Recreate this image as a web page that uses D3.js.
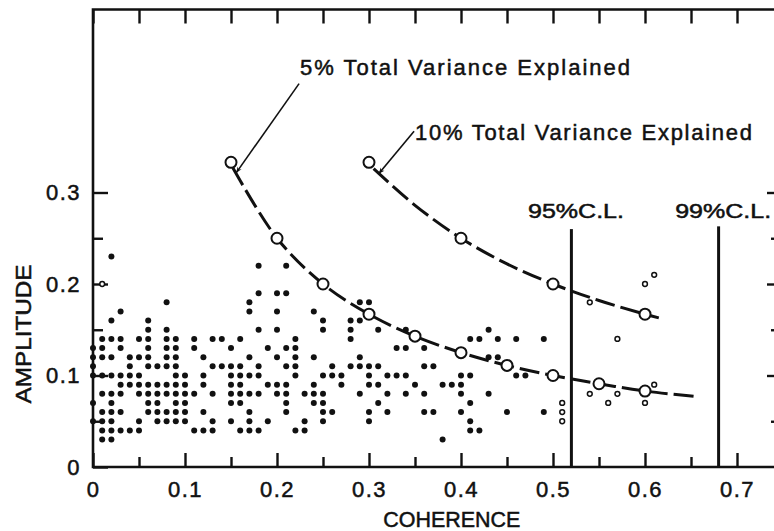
<!DOCTYPE html>
<html>
<head>
<meta charset="utf-8">
<script src="https://cdn.jsdelivr.net/npm/d3@7"></script>
<style>
  body { margin: 0; background: #fff; }
  svg { display: block; }
  text { font-family: "Liberation Sans", Arial, sans-serif; fill: #111; stroke: #111; stroke-width: 0.5px; }
</style>
</head>
<body>
<svg id="chart" width="774" height="531"></svg>
<script>
// ticks
const xMajor = [0, 0.1, 0.2, 0.3, 0.4, 0.5, 0.6, 0.7];
const xMajorLabels = ["0", "0.1", "0.2", "0.3", "0.4", "0.5", "0.6", "0.7"];
const xMinor = [0.05, 0.15, 0.25, 0.35, 0.45, 0.55, 0.65];
const yMajor = [0, 0.1, 0.2, 0.3];
const yMajorLabels = ["0", "0.1", "0.2", "0.3"];
const yMinor = [0.05, 0.15, 0.25];

// scatter, one row per amplitude level, coherence in hundredths
const dotAmplitude = [0.23, 0.22, 0.19, 0.18, 0.17, 0.16, 0.15, 0.14, 0.13, 0.12,
                      0.11, 0.10, 0.09, 0.08, 0.07, 0.06, 0.05, 0.04, 0.03];
const dotCoherence = [
  [2],
  [18, 21],
  [18, 20, 21],
  [8, 17, 29, 30],
  [3, 17, 20, 24],
  [2, 6, 25, 28, 29],
  [6, 8, 18, 20, 25, 28, 31, 34, 43],
  [1, 2, 3, 5, 6, 8, 9, 11, 13, 14, 16, 22, 28, 41, 42, 44, 46, 49],
  [0, 1, 3, 6, 8, 9, 11, 15, 19, 21, 22, 33, 34, 36],
  [0, 1, 2, 4, 5, 6, 8, 9, 12, 17, 20, 22, 24, 29, 43, 44],
  [0, 4, 6, 7, 8, 9, 13, 14, 15, 16, 18, 21, 22, 26, 28, 29, 30, 31, 36, 37],
  [0, 1, 2, 3, 4, 5, 9, 10, 12, 15, 16, 17, 18, 22, 25, 26, 27, 30, 32, 33, 34, 40, 41, 46, 47],
  [3, 4, 5, 6, 7, 8, 9, 10, 12, 15, 16, 19, 20, 21, 24, 27, 30, 31, 35, 38, 39, 40],
  [1, 2, 3, 5, 6, 7, 8, 9, 10, 11, 13, 15, 16, 17, 18, 20, 21, 23, 24, 25, 29, 32, 34, 36, 40, 43],
  [0, 2, 6, 7, 9, 10, 15, 16, 21, 24, 25, 31, 41],
  [1, 2, 3, 6, 7, 8, 9, 10, 12, 17, 21, 25, 26, 30, 32, 36, 37, 40, 45, 49],
  [0, 1, 2, 5, 7, 8, 9, 10, 13, 15, 17, 19, 23, 25, 30, 41],
  [1, 2, 3, 4, 5, 11, 12, 13, 16, 17, 18, 22, 23, 41, 42],
  [1, 2, 38]
];
// small open points
const hollowCoherence = [0.01, 0.54, 0.57, 0.60, 0.61, 0.61, 0.54, 0.57, 0.51, 0.56, 0.60, 0.51, 0.51];
const hollowAmplitude = [0.20, 0.18, 0.14, 0.20, 0.21, 0.09, 0.08, 0.08, 0.07, 0.07, 0.07, 0.06, 0.05];

// variance explained curves: marked points and dashed line
const mark5Coh = [0.15, 0.2, 0.25, 0.3, 0.35, 0.4, 0.45, 0.5, 0.55, 0.6];
const mark5Amp = [0.333, 0.25, 0.2, 0.167, 0.143, 0.125, 0.111, 0.1, 0.091, 0.083];
const line5Coh = [0.152, 0.2, 0.25, 0.3, 0.35, 0.4, 0.45, 0.5, 0.55, 0.6, 0.655];
const line5Amp = [0.327, 0.25, 0.2, 0.167, 0.143, 0.125, 0.111, 0.1, 0.091, 0.083, 0.077];
const mark10Coh = [0.3, 0.4, 0.5, 0.6];
const mark10Amp = [0.333, 0.25, 0.2, 0.167];
const line10Coh = [0.305, 0.35, 0.4, 0.45, 0.5, 0.55, 0.6, 0.615];
const line10Amp = [0.326, 0.286, 0.25, 0.222, 0.2, 0.182, 0.167, 0.163];

// labels with leader arrows (coherence, amplitude)
const noteText = ["5% Total Variance Explained", "10% Total Variance Explained"];
const noteAt = [[0.225, 0.428], [0.35, 0.357]];
const noteFrom = [[0.224, 0.419], [0.349, 0.367]];
const noteTo = [[0.156, 0.322], [0.311, 0.321]];

// confidence limits
const clCoherence = [0.52, 0.68];
const clText = ["95%C.L.", "99%C.L."];
const clTop = [0.26, 0.263];
const clLabelAmp = [0.272, 0.272];
const clLabelCoh = [0.525, 0.685];

const svg = d3.select("#chart");
const ink = "#111";

const x = d3.scaleLinear().domain([0, 0.75]).range([93, 783]);
const y = d3.scaleLinear().domain([0, 0.5]).range([467, 9.5]);

svg.append("rect").attr("width", 774).attr("height", 531).attr("fill", "#fff");

// frame
const frame = svg.append("g").attr("stroke", ink).attr("stroke-width", 2.6).attr("fill", "none");
frame.append("path").attr("d", `M${x(0)},${y(0.5)}V${y(0)}H${x(0.75)}V${y(0.5)}Z`);

function styleAxis(g) {
  g.select(".domain").remove();
  g.selectAll("line").attr("stroke", ink).attr("stroke-width", 2.4);
  g.attr("font-family", null).attr("font-size", null);
  g.selectAll("text").attr("fill", ink).style("font-size", "22px").style("letter-spacing", "1.5px");
}

// bottom
svg.append("g").attr("transform", `translate(0,${y(0)})`)
  .call(d3.axisBottom(x).tickValues(xMajor).tickSize(-14).tickPadding(14)
    .tickFormat((d, i) => xMajorLabels[i]))
  .call(styleAxis);
svg.append("g").attr("transform", `translate(0,${y(0)})`)
  .call(d3.axisBottom(x).tickValues(xMinor).tickSize(-10).tickFormat(""))
  .call(styleAxis);

// top
svg.append("g").attr("transform", `translate(0,${y(0.5)})`)
  .call(d3.axisTop(x).tickValues(xMajor.concat(xMinor)).tickSize(-14).tickFormat(""))
  .call(styleAxis);

// left
svg.append("g").attr("transform", `translate(${x(0)},0)`)
  .call(d3.axisLeft(y).tickValues(yMajor).tickSize(-15).tickPadding(12)
    .tickFormat((d, i) => yMajorLabels[i]))
  .call(styleAxis);
svg.append("g").attr("transform", `translate(${x(0)},0)`)
  .call(d3.axisLeft(y).tickValues(yMinor).tickSize(-10).tickFormat(""))
  .call(styleAxis);

// right
svg.append("g").attr("transform", `translate(${x(0.75)},0)`)
  .call(d3.axisRight(y).tickValues(yMajor.slice(1)).tickSize(-16).tickFormat(""))
  .call(styleAxis);
svg.append("g").attr("transform", `translate(${x(0.75)},0)`)
  .call(d3.axisRight(y).tickValues(yMinor).tickSize(-12).tickFormat(""))
  .call(styleAxis);

// axis titles
svg.append("text").attr("x", x(0.39)).attr("y", 527)
  .attr("text-anchor", "middle").attr("textLength", 137).attr("lengthAdjust", "spacingAndGlyphs")
  .style("font-size", "22px").text("COHERENCE");
svg.append("text").attr("transform", "translate(31,334) rotate(-90)")
  .attr("text-anchor", "middle").attr("textLength", 139).attr("lengthAdjust", "spacingAndGlyphs")
  .style("font-size", "22px").text("AMPLITUDE");

// scatter
const dots = [];
dotAmplitude.forEach((a, i) => dotCoherence[i].forEach(c => dots.push([c / 100, a])));
svg.append("g").selectAll("circle").data(dots).join("circle")
  .attr("cx", d => x(d[0])).attr("cy", d => y(d[1])).attr("r", 3).attr("fill", ink);

svg.append("g").selectAll("circle").data(hollowCoherence).join("circle")
  .attr("cx", d => x(d)).attr("cy", (d, i) => y(hollowAmplitude[i])).attr("r", 2.4)
  .attr("fill", "#fff").attr("stroke", ink).attr("stroke-width", 1.5);

// confidence limit lines
clCoherence.forEach((c, i) => {
  svg.append("line").attr("x1", x(c)).attr("x2", x(c)).attr("y1", y(clTop[i])).attr("y2", y(0))
    .attr("stroke", ink).attr("stroke-width", 3);
  svg.append("text").attr("x", x(clLabelCoh[i])).attr("y", y(clLabelAmp[i]))
    .attr("text-anchor", "middle").attr("textLength", 96).attr("lengthAdjust", "spacingAndGlyphs")
    .style("font-size", "20px").text(clText[i]);
});

// dashed curves
const line = d3.line().x(d => x(d[0])).y(d => y(d[1])).curve(d3.curveCatmullRom);
[[line5Coh, line5Amp], [line10Coh, line10Amp]].forEach(([cs, as]) => {
  svg.append("path").attr("d", line(cs.map((c, i) => [c, as[i]])))
    .attr("fill", "none").attr("stroke", ink).attr("stroke-width", 3)
    .attr("stroke-dasharray", "20,6");
});

const marks = mark5Coh.map((c, i) => [c, mark5Amp[i]])
  .concat(mark10Coh.map((c, i) => [c, mark10Amp[i]]));
svg.append("g").selectAll("circle").data(marks).join("circle")
  .attr("cx", d => x(d[0])).attr("cy", d => y(d[1])).attr("r", 5.5)
  .attr("fill", "#fff").attr("stroke", ink).attr("stroke-width", 2);

// annotations
svg.append("defs").append("marker").attr("id", "arrow")
  .attr("viewBox", "0 -5 10 10").attr("refX", 9).attr("refY", 0)
  .attr("markerWidth", 9).attr("markerHeight", 6).attr("markerUnits", "userSpaceOnUse")
  .attr("orient", "auto")
  .append("path").attr("d", "M0,-4L10,0L0,4L3,0Z").attr("fill", ink);

noteText.forEach((t, i) => {
  svg.append("line")
    .attr("x1", x(noteFrom[i][0])).attr("y1", y(noteFrom[i][1]))
    .attr("x2", x(noteTo[i][0])).attr("y2", y(noteTo[i][1]))
    .attr("stroke", ink).attr("stroke-width", 1.6).attr("marker-end", "url(#arrow)");
  svg.append("text").attr("x", x(noteAt[i][0])).attr("y", y(noteAt[i][1]))
    .attr("textLength", i === 0 ? 330 : 337).attr("lengthAdjust", "spacing")
    .style("font-size", "22px").text(t);
});
</script>
</body>
</html>
